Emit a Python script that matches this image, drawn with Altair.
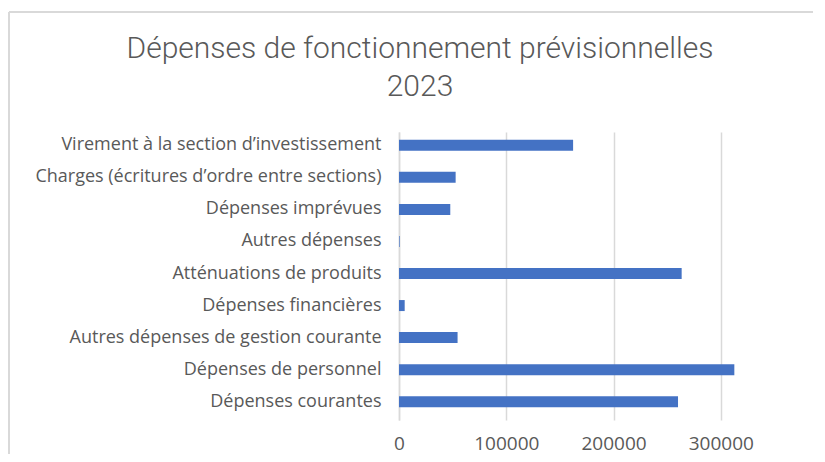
import altair as alt
import pandas as pd

categories = [
    "Virement à la section d’investissement",
    "Charges (écritures d’ordre entre sections)",
    "Dépenses imprévues",
    "Autres dépenses",
    "Atténuations de produits",
    "Dépenses financières",
    "Autres dépenses de gestion courante",
    "Dépenses de personnel",
    "Dépenses courantes",
]
values = [162300, 52800, 47800, 600, 263500, 5300, 54600, 312600, 260100]
tick_values = [0, 100000, 200000, 300000]
title_lines = ["Dépenses de fonctionnement prévisionnelles", "2023"]

df = pd.DataFrame({"cat": categories, "val": values})

W = 354
H = 288

bars = alt.Chart(df).mark_bar(size=11, color="#4472C4").encode(
    y=alt.Y("cat:N", sort=categories, title=None,
            scale=alt.Scale(paddingInner=0.3, paddingOuter=0.143, align=0.228),
            axis=alt.Axis(labelFont="Open Sans", labelFontSize=18, labelColor="#595959",
                          labelPadding=18, ticks=False, domain=True, domainColor="#d9d9d9",
                          domainWidth=1.5, labelLimit=400)),
    x=alt.X("val:Q", title=None,
            scale=alt.Scale(domain=[0, 330000], nice=False, zero=True),
            axis=alt.Axis(values=tick_values, format="d", labelFont="Open Sans",
                          labelFontSize=19, labelColor="#595959", ticks=False,
                          labelFlush=False,
                          domain=False, grid=True, gridColor="#d9d9d9", gridWidth=1.5,
                          labelPadding=14)),
)

def title_line(txt, ypos):
    return alt.Chart(pd.DataFrame({"t": [txt]})).mark_text(
        font="Roboto", fontSize=30, fontWeight=300, color="#595959",
        align="center", baseline="alphabetic",
    ).encode(text="t:N", x=alt.value(21), y=alt.value(ypos))

title1 = title_line(title_lines[0], -74)
title2 = title_line(title_lines[1], -36)

border_left = alt.Chart(df).mark_rule(color="#d9d9d9", strokeWidth=1.5).encode(
    x=alt.value(-390), y=alt.value(-120), y2=alt.value(H + 40)
)
border_top = alt.Chart(df).mark_rule(color="#d9d9d9", strokeWidth=1.5).encode(
    x=alt.value(-390), x2=alt.value(W + 80), y=alt.value(-120)
)

chart = alt.layer(border_left, border_top, title1, title2, bars).properties(
    width=W,
    height=H,
    autosize=alt.AutoSizeParams(type="none"),
    padding={"left": 391, "top": 124, "right": 60, "bottom": 34},
).configure(background="white").configure_view(stroke=None)

chart.save("out.html", embed_options={"renderer": "svg", "actions": False})
